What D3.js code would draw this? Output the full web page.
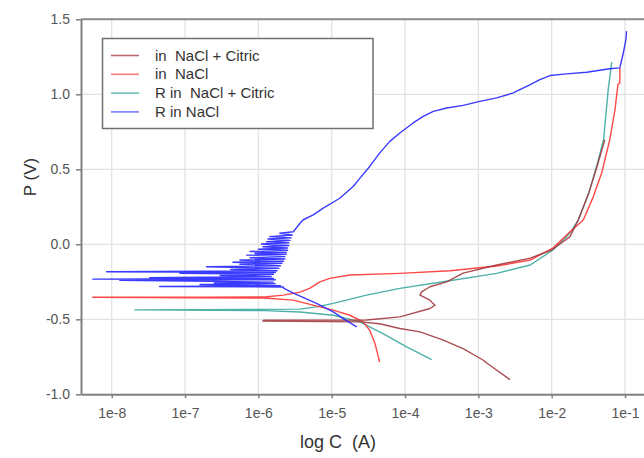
<!DOCTYPE html>
<html><head><meta charset="utf-8">
<script src="https://cdn.jsdelivr.net/npm/d3@7"></script>
<style>
body{margin:0;background:#fff}
svg{display:block;font-family:"Liberation Sans",Arial,sans-serif}
</style>
</head><body>
<svg id="chart" width="644" height="458"></svg>
<script>
// ---- data (current in A, potential in V) ----
const xTickValues = [1e-8, 1e-7, 1e-6, 1e-5, 1e-4, 1e-3, 1e-2, 1e-1];
const xTickLabels = ["1e-8", "1e-7", "1e-6", "1e-5", "1e-4", "1e-3", "1e-2", "1e-1"];
const yTickValues = [-1.0, -0.5, 0.0, 0.5, 1.0, 1.5];
const yTickLabels = ["-1.0", "-0.5", "0.0", "0.5", "1.0", "1.5"];
const seriesNames = ["in  NaCl + Citric", "in  NaCl", "R in  NaCl + Citric", "R in NaCl"];

const nacl_citric = [
  [2.7e-3, -0.902], [1.3e-3, -0.791], [1.17e-3, -0.773], [6.2e-4, -0.695], [3.2e-4, -0.635],
  [1.6e-4, -0.584], [8.5e-5, -0.561], [4.5e-5, -0.530], [2.43e-5, -0.517],
  [1.15e-6, -0.511], [1.2e-6, -0.506], [3.0e-5, -0.505],
  [8.5e-5, -0.484], [2.19e-4, -0.428], [2.56e-4, -0.406], [2.3e-4, -0.385], [2.19e-4, -0.372],
  [1.6e-4, -0.339], [1.68e-4, -0.317], [2.19e-4, -0.283], [3.7e-4, -0.250], [6.2e-4, -0.192],
  [1.78e-3, -0.138], [5.1e-3, -0.092], [1.0e-2, -0.038], [1.78e-2, 0.051], [2.3e-2, 0.162],
  [3.2e-2, 0.341], [4.15e-2, 0.519], [5.3e-2, 0.697]
];

const nacl = [
  [4.5e-5, -0.785], [3.9e-5, -0.662], [3.3e-5, -0.573], [2.69e-5, -0.517], [1.77e-5, -0.473],
  [1.05e-5, -0.439], [2.96e-6, -0.372], [1.2e-6, -0.358],
  [5.5e-9, -0.353], [2.0e-7, -0.352], [1.3e-6, -0.350],
  [2.2e-6, -0.339], [3.7e-6, -0.319], [5.0e-6, -0.294], [6.9e-6, -0.250], [9.4e-6, -0.227],
  [1.77e-5, -0.205], [8.5e-5, -0.194], [4.1e-4, -0.176], [1.78e-3, -0.145], [5.1e-3, -0.105],
  [1.04e-2, -0.025], [1.78e-2, 0.084], [2.7e-2, 0.162], [3.7e-2, 0.318], [4.8e-2, 0.475],
  [6.2e-2, 0.697], [7.3e-2, 0.898], [8.0e-2, 1.065], [8.5e-2, 1.076], [8.5e-2, 1.176]
];

const r_nacl_citric = [
  [2.31e-4, -0.769], [1.05e-4, -0.684], [5.0e-5, -0.595], [2.43e-5, -0.517], [1.05e-5, -0.473],
  [3.7e-6, -0.451], [1.2e-6, -0.442],
  [2.07e-8, -0.437], [1.0e-6, -0.434],
  [3.7e-6, -0.432], [6.2e-6, -0.417], [1.05e-5, -0.394], [2.99e-5, -0.339], [8.5e-5, -0.294],
  [3.3e-4, -0.250], [1.78e-3, -0.194], [5.1e-3, -0.138], [1.04e-2, -0.038], [1.78e-2, 0.076],
  [2.31e-2, 0.162], [3.2e-2, 0.341], [4.1e-2, 0.519], [5.1e-2, 0.697], [5.9e-2, 1.031],
  [6.6e-2, 1.214]
];

const r_nacl = [
  [2.19e-5, -0.551], [1.44e-5, -0.495], [1.05e-5, -0.451], [6.2e-6, -0.394], [3.0e-6, -0.326],
  [2.2e-6, -0.292],
  [2.2e-6, -0.285], [4.5e-8, -0.281], [2.0e-6, -0.276], [1.6e-7, -0.268],
  [1.7e-6, -0.262], [2.5e-7, -0.258], [1.6e-6, -0.252], [1.29e-8, -0.240],
  [1.7e-6, -0.236], [5.5e-9, -0.232], [1.6e-6, -0.228], [3.3e-8, -0.222],
  [1.5e-6, -0.215], [3.0e-7, -0.208], [1.6e-6, -0.200], [8.5e-8, -0.193],
  [1.7e-6, -0.188], [8.5e-9, -0.183], [1.8e-6, -0.176], [4.2e-7, -0.168],
  [1.9e-6, -0.160], [1.96e-7, -0.150], [2.0e-6, -0.143], [5.6e-7, -0.133],
  [2.1e-6, -0.126], [4.5e-7, -0.120], [2.2e-6, -0.113], [5.6e-7, -0.105],
  [2.3e-6, -0.098], [7.7e-7, -0.090], [2.3e-6, -0.082], [6.9e-7, -0.072],
  [2.4e-6, -0.066], [9.0e-7, -0.060], [2.4e-6, -0.054], [7.7e-7, -0.048],
  [2.5e-6, -0.040], [1.0e-6, -0.033], [2.5e-6, -0.025], [1.15e-6, -0.016],
  [2.6e-6, -0.008], [1.1e-6, 0.002], [2.6e-6, 0.010], [1.29e-6, 0.017],
  [2.7e-6, 0.026], [1.35e-6, 0.035], [2.8e-6, 0.043], [1.43e-6, 0.051],
  [2.9e-6, 0.062], [1.96e-6, 0.074], [3.0e-6, 0.084],
  [3.7e-6, 0.140], [4.05e-6, 0.162], [5.6e-6, 0.196], [7.66e-6, 0.241], [1.29e-5, 0.307],
  [1.96e-5, 0.385], [2.43e-5, 0.441], [3.3e-5, 0.519], [4.5e-5, 0.608], [6.2e-5, 0.686],
  [8.5e-5, 0.742], [1.29e-4, 0.809], [1.77e-4, 0.853], [2.43e-4, 0.886], [3.7e-4, 0.909],
  [6.2e-4, 0.926], [1.05e-3, 0.953], [1.78e-3, 0.976], [2.99e-3, 1.009], [5.1e-3, 1.065],
  [6.9e-3, 1.098], [9.5e-3, 1.125], [1.6e-2, 1.136], [3.0e-2, 1.147], [6.2e-2, 1.170],
  [8.5e-2, 1.176], [9.5e-2, 1.277], [0.103, 1.366], [0.105, 1.421]
];

// ---- layout / style ----
const W = 644, H = 458;
const pLeft = 81, pRight = 644, pTop = 19.3, pBottom = 394.3;
const colors = ["#a23a3e", "#ff3434", "#3aa89e", "#2626ff"];
const legendColors = ["#b86a6c", "#ff7a7a", "#6fbfb8", "#7a7aff"];

const svg = d3.select("#chart");
svg.append("rect").attr("width", W).attr("height", H).attr("fill", "#fff");

const x = d3.scaleLog().domain([Math.pow(10, -8.419), Math.pow(10, -0.741)]).range([pLeft, pRight]);
const y = d3.scaleLinear().domain([-1, 1.5]).range([pBottom, pTop]);

// grid
const grid = svg.append("g").attr("stroke", "#e2e2e2").attr("stroke-width", 1.3);
grid.selectAll("line.v").data(xTickValues).join("line").attr("class", "v")
  .attr("x1", d => x(d)).attr("x2", d => x(d)).attr("y1", pTop).attr("y2", pBottom);
grid.selectAll("line.h").data(yTickValues).join("line").attr("class", "h")
  .attr("x1", pLeft).attr("x2", pRight).attr("y1", d => y(d)).attr("y2", d => y(d));

// clip
svg.append("clipPath").attr("id", "clip").append("rect")
  .attr("x", pLeft).attr("y", pTop).attr("width", pRight - pLeft).attr("height", pBottom - pTop);

const line = d3.line().x(d => x(d[0])).y(d => y(d[1]));
const allSeries = [nacl_citric, nacl, r_nacl_citric, r_nacl];
const plot = svg.append("g").attr("clip-path", "url(#clip)");
const drawOrder = [2, 1, 0, 3];
drawOrder.forEach(i => {
  plot.append("path").datum(allSeries[i])
    .attr("d", line).attr("fill", "none")
    .attr("stroke", colors[i]).attr("stroke-width", 1.4)
    .attr("stroke-linejoin", "round").attr("stroke-opacity", 0.9);
});

// axes
const xAxis = d3.axisBottom(x).tickValues(xTickValues)
  .tickFormat((d, i) => xTickLabels[i]).tickSize(4).tickSizeOuter(0).tickPadding(10);
const yAxis = d3.axisLeft(y).tickValues(yTickValues)
  .tickFormat((d, i) => yTickLabels[i]).tickSize(5).tickSizeOuter(0).tickPadding(6);

const gx = svg.append("g").attr("transform", `translate(0,${pBottom})`).call(xAxis);
const gy = svg.append("g").attr("transform", `translate(${pLeft},0)`).call(yAxis);
[gx, gy].forEach(g => {
  g.select(".domain").attr("stroke", "#808080").attr("stroke-width", 2);
  g.selectAll(".tick line").attr("stroke", "#808080").attr("stroke-width", 1.5);
  g.selectAll(".tick text").attr("fill", "#555").attr("font-size", 14)
    .attr("font-family", "Liberation Sans, Arial, sans-serif");
});
// top frame
svg.append("line").attr("x1", pLeft).attr("x2", pRight).attr("y1", pTop).attr("y2", pTop)
  .attr("stroke", "#8a8a8a").attr("stroke-width", 2);

// axis titles
svg.append("text").attr("x", 338).attr("y", 448).attr("text-anchor", "middle")
  .attr("font-size", 18).attr("fill", "#333").style("white-space", "pre").text("log C  (A)");
svg.append("text").attr("transform", "translate(36,177) rotate(-90)").attr("text-anchor", "middle")
  .attr("font-size", 17).attr("fill", "#333").text("P (V)");

// legend
const lg = svg.append("g");
lg.append("rect").attr("x", 102.5).attr("y", 38.5).attr("width", 270.5).attr("height", 90)
  .attr("fill", "#fff").attr("stroke", "#707070").attr("stroke-width", 1.5);
seriesNames.forEach((name, i) => {
  const cy = 55.5 + i * 18.8;
  lg.append("line").attr("x1", 111).attr("x2", 139).attr("y1", cy).attr("y2", cy)
    .attr("stroke", legendColors[i]).attr("stroke-width", 1.6);
  lg.append("text").attr("x", 155).attr("y", cy + 5).attr("font-size", 15).attr("fill", "#333")
    .style("white-space", "pre").text(name);
});
</script>
</body></html>
